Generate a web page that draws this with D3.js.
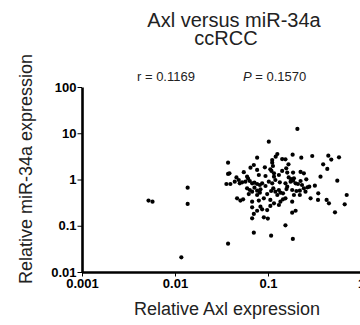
<!DOCTYPE html>
<html>
<head>
<meta charset="utf-8">
<script src="https://cdn.jsdelivr.net/npm/d3@7"></script>
<style>
  body { margin: 0; background: #fff; }
  svg { display: block; font-family: "Liberation Sans", Arial, sans-serif; }
</style>
</head>
<body>
<div id="chart"></div>
<script>
// Relative Axl expression (x) and relative miR-34a expression (y), one entry per sample
const axlExpr = [
  0.207, 0.102, 0.126, 0.121, 0.142, 0.154, 0.184, 0.228, 0.299, 0.445, 0.479, 0.580,
  0.111, 0.0764, 0.0372, 0.111, 0.0704, 0.0648, 0.0925, 0.113, 0.166, 0.392, 0.434, 0.106,
  0.157, 0.0372, 0.0385, 0.0549, 0.0764, 0.109, 0.116, 0.142, 0.186, 0.161, 0.224, 0.243,
  0.367, 0.0797, 0.0458, 0.116, 0.0596, 0.0940, 0.131, 0.0357, 0.0394, 0.0439, 0.0485, 0.0497,
  0.0527, 0.0572, 0.0611, 0.0637, 0.0675, 0.0715, 0.0764, 0.0817, 0.0865, 0.0940, 0.102, 0.111,
  0.120, 0.134, 0.154, 0.161, 0.175, 0.186, 0.198, 0.210, 0.224, 0.232, 0.258, 0.278,
  0.319, 0.556, 0.167, 0.190, 0.177, 0.0596, 0.0637, 0.0675, 0.0715, 0.0764, 0.0830, 0.0817,
  0.108, 0.114, 0.120, 0.131, 0.136, 0.145, 0.158, 0.182, 0.202, 0.220, 0.243, 0.253,
  0.266, 0.347, 0.702, 0.0621, 0.0764, 0.0980, 0.126, 0.190, 0.220, 0.0465, 0.0505, 0.0540,
  0.0675, 0.0797, 0.0902, 0.106, 0.116, 0.136, 0.145, 0.154, 0.182, 0.287, 0.345, 0.427,
  0.452, 0.668, 0.00519, 0.00573, 0.01368, 0.01368, 0.0675, 0.0830, 0.106, 0.131, 0.0764, 0.0865,
  0.0980, 0.0704, 0.0675, 0.0902, 0.0996, 0.182, 0.198, 0.525, 0.154, 0.0704, 0.108, 0.185,
  0.0372, 0.0117
];
const mirExpr = [
  12.4, 6.58, 3.56, 3.12, 2.77, 2.73, 3.44, 2.96, 3.22, 3.28, 2.69, 3.01,
  2.64, 2.96, 2.31, 2.31, 2.06, 1.80, 1.83, 1.96, 2.13, 2.13, 1.69, 1.66,
  1.74, 1.32, 1.36, 1.44, 1.61, 1.53, 1.36, 1.53, 1.41, 1.41, 1.46, 1.36,
  1.15, 1.25, 1.11, 1.15, 1.15, 1.19, 1.25, 0.799, 0.799, 0.897, 0.975, 0.826,
  0.868, 0.897, 1.04, 0.927, 0.826, 0.854, 0.799, 0.760, 0.826, 0.724, 0.897, 0.826,
  0.975, 0.868, 0.826, 0.700, 0.897, 0.942, 0.826, 0.799, 0.927, 0.760, 1.01, 0.700,
  0.735, 0.942, 1.11, 1.06, 1.02, 0.644, 0.593, 0.546, 0.666, 0.573, 0.612, 0.518,
  0.564, 0.644, 0.546, 0.593, 0.518, 0.502, 0.622, 0.593, 0.564, 0.573, 0.644, 0.546,
  0.677, 0.502, 0.462, 0.485, 0.462, 0.485, 0.462, 0.462, 0.462, 0.392, 0.350, 0.373,
  0.332, 0.350, 0.392, 0.361, 0.305, 0.332, 0.373, 0.392, 0.332, 0.392, 0.361, 0.361,
  0.305, 0.291, 0.350, 0.332, 0.666, 0.296, 0.250, 0.259, 0.268, 0.281, 0.211, 0.226,
  0.218, 0.180, 0.145, 0.152, 0.143, 0.192, 0.211, 0.195, 0.102, 0.0708, 0.0611, 0.0518,
  0.0410, 0.0208
];
const xMajorTicks = [0.001, 0.01, 0.1, 1];
const xTickLabels = ["0.001", "0.01", "0.1", "1"];
const yMajorTicks = [0.01, 0.1, 1, 10, 100];
const yTickLabels = ["0.01", "0.1", "1", "10", "100"];
const titleLines = ["Axl versus miR-34a", "ccRCC"];
const statLabels = ["r = 0.1169", "0.1570"];

const width = 360, height = 325;
const plot = { left: 82, right: 361, top: 87, bottom: 272 };

const svg = d3.select("#chart").append("svg")
    .attr("width", width)
    .attr("height", height);

const x = d3.scaleLog().domain([0.001, 1]).range([plot.left, plot.right]);
const y = d3.scaleLog().domain([0.01, 100]).range([plot.bottom, plot.top]);

// minor ticks 2..9 in each decade
function minorTicks(lo, hi) {
    const out = [];
    for (let p = lo; p < hi; p++) {
        for (let k = 2; k <= 9; k++) out.push(k * Math.pow(10, p));
    }
    return out;
}

// Y axis
const yAxis = svg.append("g").attr("transform", `translate(${plot.left},0)`);
yAxis.call(d3.axisLeft(y).tickValues(minorTicks(-2, 2)).tickFormat("").tickSize(2.5).tickSizeOuter(0));
yAxis.call(d3.axisLeft(y).tickValues(yMajorTicks)
    .tickFormat((d, i) => yTickLabels[i]).tickSize(4.5).tickPadding(1).tickSizeOuter(0));
yAxis.select(".domain").attr("stroke", "#000").attr("stroke-width", 2.6);
yAxis.selectAll(".tick line").attr("stroke", "#000").attr("stroke-width", 1);
yAxis.selectAll("text").attr("fill", "#000")
    .style("font-size", "13px").style("font-weight", "bold");

// X axis
const xAxis = svg.append("g").attr("transform", `translate(0,${plot.bottom})`);
xAxis.call(d3.axisBottom(x).tickValues(minorTicks(-3, 0)).tickFormat("").tickSize(2.5).tickSizeOuter(0));
xAxis.call(d3.axisBottom(x).tickValues(xMajorTicks)
    .tickFormat((d, i) => xTickLabels[i]).tickSize(4.5).tickPadding(2).tickSizeOuter(0));
xAxis.select(".domain").attr("stroke", "#000").attr("stroke-width", 2.6);
xAxis.selectAll(".tick line").attr("stroke", "#000").attr("stroke-width", 1);
xAxis.selectAll("text").attr("fill", "#000")
    .style("font-size", "13px").style("font-weight", "bold");

// points
const points = axlExpr.map((v, i) => ({ x: v, y: mirExpr[i] }));
svg.append("g").selectAll("circle")
    .data(points)
    .enter().append("circle")
    .attr("cx", d => x(d.x))
    .attr("cy", d => y(d.y))
    .attr("r", 2.1)
    .attr("fill", "#000");

// title, two lines in one text
const title = svg.append("text").attr("text-anchor", "middle")
    .style("font-size", "20px").attr("fill", "#222");
title.append("tspan").attr("x", 234).attr("y", 27).text(titleLines[0]);
title.append("tspan").attr("x", 226).attr("y", 45).text(titleLines[1]);

// stats
svg.append("text").attr("x", 137).attr("y", 81)
    .style("font-size", "13px").attr("fill", "#222").text(statLabels[0]);
const pText = svg.append("text").attr("x", 243).attr("y", 81)
    .style("font-size", "13px").attr("fill", "#222");
pText.append("tspan").style("font-style", "italic").text("P");
pText.append("tspan").text(" = " + statLabels[1]);

// axis titles
svg.append("text").attr("x", 227).attr("y", 315).attr("text-anchor", "middle")
    .style("font-size", "18px").attr("fill", "#222").text("Relative Axl expression");
svg.append("text")
    .attr("transform", "translate(32,169) rotate(-90)")
    .attr("text-anchor", "middle")
    .style("font-size", "18px").attr("fill", "#222").text("Relative miR-34a expression");
</script>
</body>
</html>
